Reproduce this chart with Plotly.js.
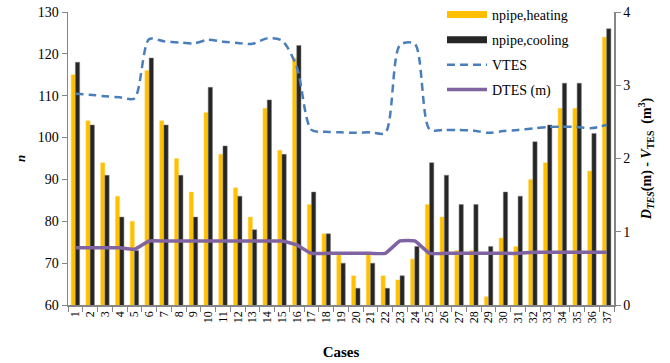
<!DOCTYPE html>
<html>
<head>
<meta charset="utf-8">
<script src="https://cdn.plot.ly/plotly-3.0.1.min.js"></script>
<style>html,body{margin:0;padding:0;background:#fff;}#chart{width:670px;height:363px;}</style>
</head>
<body>
<div id="chart"></div>
<script>
const cases = Array.from({length: 37}, (_, i) => String(i + 1));
const npipeHeating = [115,104,94,86,80,116,104,95,87,106,96,88,81,107,97,119,84,77,72,67,72,67,66,71,84,81,73,73,62,76,74,90,94,107,107,92,124];
const npipeCooling = [118,103,91,81,73,119,103,91,81,112,98,86,78,109,96,122,87,77,70,64,70,64,67,74,94,91,84,84,74,87,86,99,103,113,113,101,126];
const vtes = [2.885,2.87,2.85,2.835,2.82,3.63,3.60,3.585,3.57,3.62,3.595,3.577,3.565,3.64,3.61,3.25,2.39,2.366,2.357,2.35,2.357,2.35,3.55,3.565,2.40,2.39,2.39,2.38,2.35,2.375,2.39,2.41,2.43,2.435,2.43,2.415,2.46];
const dtes = [0.78,0.78,0.78,0.78,0.76,0.874,0.874,0.874,0.874,0.874,0.874,0.874,0.874,0.874,0.874,0.82,0.705,0.705,0.705,0.705,0.705,0.705,0.875,0.875,0.705,0.705,0.705,0.705,0.705,0.705,0.705,0.72,0.72,0.72,0.72,0.72,0.72];
const seriesNames = ['npipe,heating', 'npipe,cooling', 'VTES', 'DTES (m)'];

const font = 'Liberation Serif';
const heatColor = '#FFC000', coolColor = '#262626';
const traces = [
  {type:'bar', name:seriesNames[0], x:cases, y:npipeHeating, showlegend:false,
   marker:{color:heatColor, line:{color:'#FFD966', width:0.5}}},
  {type:'bar', name:seriesNames[1], x:cases, y:npipeCooling, showlegend:false,
   marker:{color:coolColor, line:{color:'#7f7f7f', width:0.5}}},
  // legend-only entries so the bar swatches are drawn as wide rectangles
  {type:'scatter', mode:'lines', name:seriesNames[0], x:[cases[0]], y:[null], legend:'legend',
   line:{color:heatColor, width:7}, hoverinfo:'skip'},
  {type:'scatter', mode:'lines', name:seriesNames[1], x:[cases[0]], y:[null], legend:'legend2',
   line:{color:coolColor, width:7}, hoverinfo:'skip'},
  {type:'scatter', mode:'lines', name:seriesNames[2], x:cases, y:vtes, yaxis:'y2', legend:'legend3',
   line:{color:'#4A7EBB', width:2.5, dash:'8px,5px', shape:'spline', smoothing:0.8}},
  {type:'scatter', mode:'lines', name:seriesNames[3], x:cases, y:dtes, yaxis:'y2', legend:'legend4',
   line:{color:'#8064A2', width:3.5, shape:'spline', smoothing:0.35}}
];

function leg(yPaper) {
  return {x:0.685, y:yPaper, xanchor:'left', yanchor:'middle', bgcolor:'rgba(0,0,0,0)',
          font:{family:font, size:14}, itemwidth:40};
}

const layout = {
  width:670, height:363,
  margin:{l:68, r:56, t:12, b:58, autoexpand:false},
  paper_bgcolor:'#fff', plot_bgcolor:'#fff',
  font:{family:font, size:14, color:'#000'},
  barmode:'group', bargap:0.42, bargroupgap:0,
  showlegend:true,
  legend:leg(0.99), legend2:leg(0.904), legend3:leg(0.819), legend4:leg(0.734),
  xaxis:{type:'category', tickangle:-90, tickson:'boundaries', ticks:'outside', ticklen:5,
         tickcolor:'#868686', showline:true, linecolor:'#868686', linewidth:1.5,
         tickfont:{family:font, size:12}, showgrid:false, zeroline:false,
         title:{text:'<b>Cases</b>', font:{family:font, size:15}, standoff:24}},
  yaxis:{range:[60,130], dtick:10, ticks:'outside', ticklen:5, tickcolor:'#868686',
         showline:true, linecolor:'#868686', linewidth:1.5, showgrid:false, zeroline:false,
         tickfont:{family:font, size:14},
         title:{text:'<b><i>n</i></b>', font:{family:font, size:13}, standoff:9}},
  yaxis2:{range:[0,4], dtick:1, overlaying:'y', side:'right', ticks:'outside', ticklen:5,
          tickcolor:'#868686', showline:true, linecolor:'#868686', linewidth:1.5,
          showgrid:false, zeroline:false, tickfont:{family:font, size:14},
          title:{text:'<b><i>D</i><sub><i>TES</i></sub>(m) - <i>V</i><sub>TES</sub>  (m<sup>3</sup>)</b>',
                 font:{family:font, size:14}, standoff:12}}
};

Plotly.newPlot('chart', traces, layout, {displayModeBar:false, staticPlot:true});
</script>
</body>
</html>
